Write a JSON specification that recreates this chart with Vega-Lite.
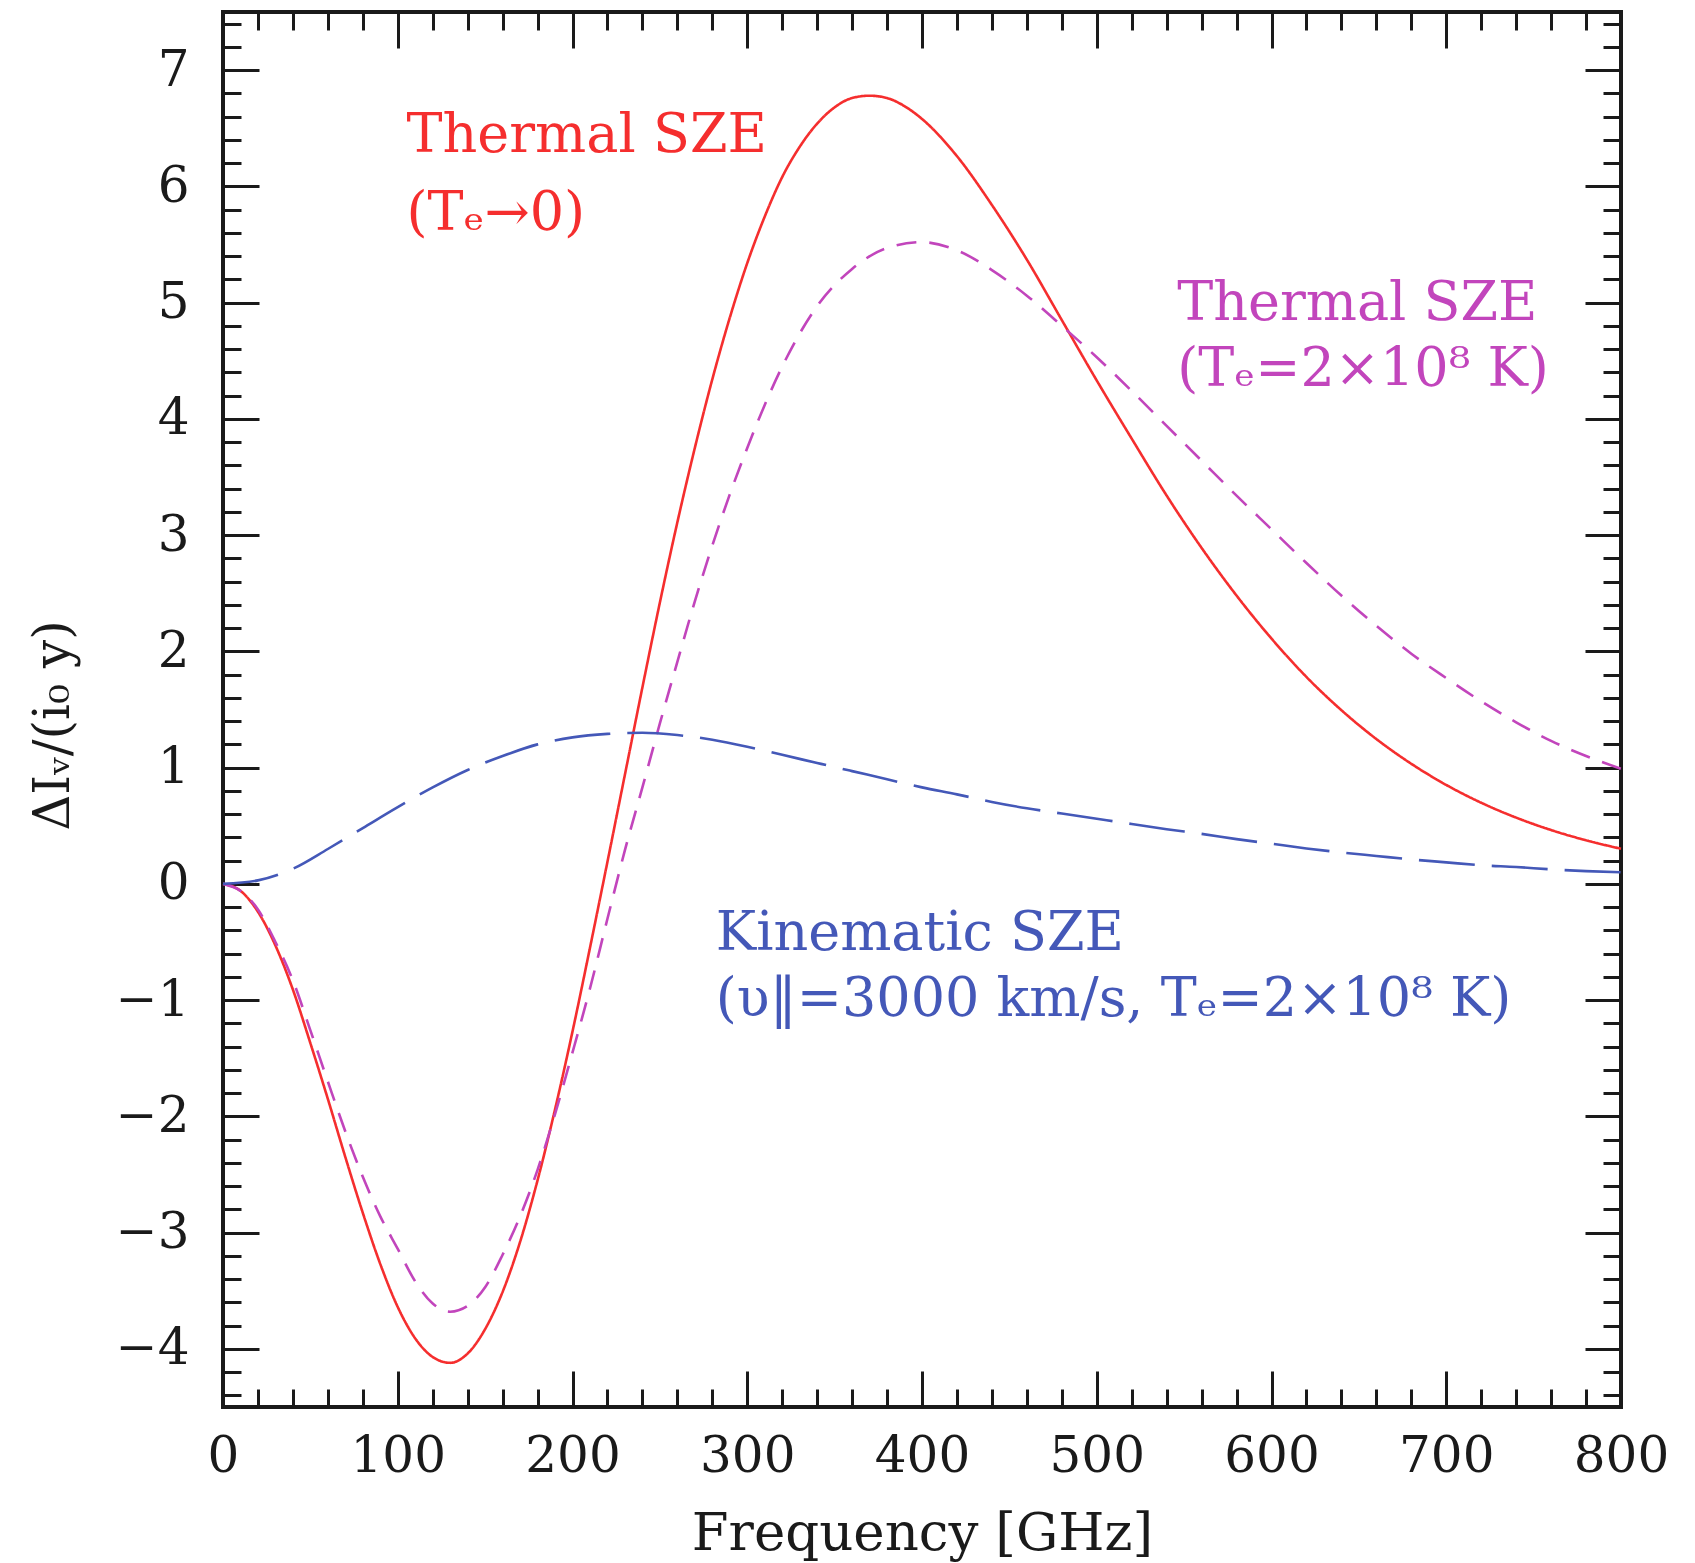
{
  "$schema": "https://vega.github.io/schema/vega-lite/v6.json",
  "width": 1398,
  "height": 1395,
  "autosize": {"type": "none"},
  "padding": {"left": 223, "top": 12, "right": 74, "bottom": 156},
  "background": "white",
  "config": {
    "view": {"stroke": "#1a1a1a", "strokeWidth": 4},
    "axis": {"domain": false, "grid": false, "tickColor": "#1a1a1a", "tickWidth": 3, "labelColor": "#1a1a1a", "titleColor": "#1a1a1a"}
  },
  "datasets": {
    "curves": [
      {"nu": 0, "v": 0, "s": "r"}, {"nu": 10, "v": -0.06, "s": "r"}, {"nu": 20, "v": -0.24, "s": "r"}, {"nu": 30, "v": -0.53, "s": "r"}, {"nu": 40, "v": -0.91, "s": "r"}, {"nu": 50, "v": -1.37, "s": "r"}, {"nu": 60, "v": -1.85, "s": "r"}, {"nu": 70, "v": -2.35, "s": "r"}, {"nu": 80, "v": -2.83, "s": "r"}, {"nu": 90, "v": -3.27, "s": "r"}, {"nu": 100, "v": -3.64, "s": "r"}, {"nu": 110, "v": -3.91, "s": "r"}, {"nu": 120, "v": -4.07, "s": "r"}, {"nu": 130, "v": -4.12, "s": "r"}, {"nu": 140, "v": -4.04, "s": "r"}, {"nu": 150, "v": -3.83, "s": "r"}, {"nu": 160, "v": -3.51, "s": "r"}, {"nu": 170, "v": -3.08, "s": "r"}, {"nu": 180, "v": -2.55, "s": "r"}, {"nu": 190, "v": -1.94, "s": "r"}, {"nu": 200, "v": -1.27, "s": "r"}, {"nu": 210, "v": -0.55, "s": "r"}, {"nu": 220, "v": 0.19, "s": "r"}, {"nu": 230, "v": 0.94, "s": "r"}, {"nu": 240, "v": 1.69, "s": "r"}, {"nu": 250, "v": 2.42, "s": "r"}, {"nu": 260, "v": 3.11, "s": "r"}, {"nu": 270, "v": 3.75, "s": "r"}, {"nu": 280, "v": 4.34, "s": "r"}, {"nu": 290, "v": 4.87, "s": "r"}, {"nu": 300, "v": 5.34, "s": "r"}, {"nu": 310, "v": 5.74, "s": "r"}, {"nu": 320, "v": 6.08, "s": "r"}, {"nu": 330, "v": 6.34, "s": "r"}, {"nu": 340, "v": 6.54, "s": "r"}, {"nu": 350, "v": 6.68, "s": "r"}, {"nu": 360, "v": 6.76, "s": "r"}, {"nu": 370, "v": 6.78, "s": "r"}, {"nu": 380, "v": 6.76, "s": "r"}, {"nu": 390, "v": 6.69, "s": "r"}, {"nu": 400, "v": 6.58, "s": "r"}, {"nu": 420, "v": 6.26, "s": "r"}, {"nu": 440, "v": 5.84, "s": "r"}, {"nu": 460, "v": 5.37, "s": "r"}, {"nu": 480, "v": 4.85, "s": "r"}, {"nu": 500, "v": 4.33, "s": "r"}, {"nu": 520, "v": 3.83, "s": "r"}, {"nu": 540, "v": 3.34, "s": "r"}, {"nu": 560, "v": 2.89, "s": "r"}, {"nu": 580, "v": 2.48, "s": "r"}, {"nu": 600, "v": 2.11, "s": "r"}, {"nu": 620, "v": 1.78, "s": "r"}, {"nu": 640, "v": 1.494, "s": "r"}, {"nu": 660, "v": 1.246, "s": "r"}, {"nu": 680, "v": 1.033, "s": "r"}, {"nu": 700, "v": 0.851, "s": "r"}, {"nu": 720, "v": 0.698, "s": "r"}, {"nu": 740, "v": 0.570, "s": "r"}, {"nu": 760, "v": 0.463, "s": "r"}, {"nu": 780, "v": 0.375, "s": "r"}, {"nu": 800, "v": 0.302, "s": "r"},
      {"nu": 0, "v": 0, "s": "m"}, {"nu": 10, "v": -0.06, "s": "m"}, {"nu": 20, "v": -0.22, "s": "m"}, {"nu": 30, "v": -0.50, "s": "m"}, {"nu": 40, "v": -0.83, "s": "m"}, {"nu": 50, "v": -1.26, "s": "m"}, {"nu": 60, "v": -1.70, "s": "m"}, {"nu": 70, "v": -2.13, "s": "m"}, {"nu": 80, "v": -2.52, "s": "m"}, {"nu": 90, "v": -2.86, "s": "m"}, {"nu": 100, "v": -3.14, "s": "m"}, {"nu": 110, "v": -3.42, "s": "m"}, {"nu": 120, "v": -3.61, "s": "m"}, {"nu": 130, "v": -3.68, "s": "m"}, {"nu": 140, "v": -3.63, "s": "m"}, {"nu": 150, "v": -3.47, "s": "m"}, {"nu": 160, "v": -3.19, "s": "m"}, {"nu": 170, "v": -2.86, "s": "m"}, {"nu": 180, "v": -2.46, "s": "m"}, {"nu": 190, "v": -1.98, "s": "m"}, {"nu": 200, "v": -1.45, "s": "m"}, {"nu": 210, "v": -0.90, "s": "m"}, {"nu": 220, "v": -0.30, "s": "m"}, {"nu": 230, "v": 0.29, "s": "m"}, {"nu": 240, "v": 0.83, "s": "m"}, {"nu": 250, "v": 1.38, "s": "m"}, {"nu": 260, "v": 1.91, "s": "m"}, {"nu": 270, "v": 2.43, "s": "m"}, {"nu": 280, "v": 2.91, "s": "m"}, {"nu": 290, "v": 3.35, "s": "m"}, {"nu": 300, "v": 3.75, "s": "m"}, {"nu": 310, "v": 4.12, "s": "m"}, {"nu": 320, "v": 4.45, "s": "m"}, {"nu": 340, "v": 4.97, "s": "m"}, {"nu": 360, "v": 5.29, "s": "m"}, {"nu": 380, "v": 5.47, "s": "m"}, {"nu": 400, "v": 5.52, "s": "m"}, {"nu": 420, "v": 5.45, "s": "m"}, {"nu": 440, "v": 5.28, "s": "m"}, {"nu": 460, "v": 5.06, "s": "m"}, {"nu": 480, "v": 4.80, "s": "m"}, {"nu": 500, "v": 4.53, "s": "m"}, {"nu": 520, "v": 4.24, "s": "m"}, {"nu": 540, "v": 3.94, "s": "m"}, {"nu": 560, "v": 3.64, "s": "m"}, {"nu": 580, "v": 3.34, "s": "m"}, {"nu": 600, "v": 3.05, "s": "m"}, {"nu": 620, "v": 2.76, "s": "m"}, {"nu": 640, "v": 2.48, "s": "m"}, {"nu": 660, "v": 2.22, "s": "m"}, {"nu": 680, "v": 1.98, "s": "m"}, {"nu": 700, "v": 1.77, "s": "m"}, {"nu": 720, "v": 1.57, "s": "m"}, {"nu": 740, "v": 1.39, "s": "m"}, {"nu": 760, "v": 1.23, "s": "m"}, {"nu": 780, "v": 1.10, "s": "m"}, {"nu": 800, "v": 0.99, "s": "m"},
      {"nu": 0, "v": 0, "s": "k"}, {"nu": 20, "v": 0.03, "s": "k"}, {"nu": 40, "v": 0.13, "s": "k"}, {"nu": 60, "v": 0.30, "s": "k"}, {"nu": 80, "v": 0.48, "s": "k"}, {"nu": 100, "v": 0.66, "s": "k"}, {"nu": 120, "v": 0.83, "s": "k"}, {"nu": 140, "v": 0.98, "s": "k"}, {"nu": 160, "v": 1.10, "s": "k"}, {"nu": 180, "v": 1.20, "s": "k"}, {"nu": 200, "v": 1.26, "s": "k"}, {"nu": 220, "v": 1.29, "s": "k"}, {"nu": 240, "v": 1.30, "s": "k"}, {"nu": 260, "v": 1.28, "s": "k"}, {"nu": 280, "v": 1.24, "s": "k"}, {"nu": 300, "v": 1.18, "s": "k"}, {"nu": 320, "v": 1.11, "s": "k"}, {"nu": 340, "v": 1.04, "s": "k"}, {"nu": 360, "v": 0.97, "s": "k"}, {"nu": 380, "v": 0.90, "s": "k"}, {"nu": 400, "v": 0.83, "s": "k"}, {"nu": 420, "v": 0.77, "s": "k"}, {"nu": 440, "v": 0.705, "s": "k"}, {"nu": 460, "v": 0.65, "s": "k"}, {"nu": 480, "v": 0.605, "s": "k"}, {"nu": 500, "v": 0.56, "s": "k"}, {"nu": 520, "v": 0.515, "s": "k"}, {"nu": 540, "v": 0.47, "s": "k"}, {"nu": 560, "v": 0.43, "s": "k"}, {"nu": 580, "v": 0.385, "s": "k"}, {"nu": 600, "v": 0.345, "s": "k"}, {"nu": 620, "v": 0.305, "s": "k"}, {"nu": 640, "v": 0.27, "s": "k"}, {"nu": 660, "v": 0.24, "s": "k"}, {"nu": 680, "v": 0.21, "s": "k"}, {"nu": 700, "v": 0.185, "s": "k"}, {"nu": 720, "v": 0.16, "s": "k"}, {"nu": 740, "v": 0.145, "s": "k"}, {"nu": 760, "v": 0.125, "s": "k"}, {"nu": 780, "v": 0.11, "s": "k"}, {"nu": 800, "v": 0.10, "s": "k"}
    ],
    "labels": [
      {"nu": 105, "v": 6.30, "label": "Thermal SZE", "s": "r"},
      {"nu": 105, "v": 5.625, "label": "(Tₑ→0)", "s": "r"},
      {"nu": 546, "v": 4.85, "label": "Thermal SZE", "s": "m"},
      {"nu": 546, "v": 4.28, "label": "(Tₑ=2×10⁸ K)", "s": "m"},
      {"nu": 282, "v": -0.57, "label": "Kinematic SZE", "s": "k"},
      {"nu": 282, "v": -1.14, "label": "(υ‖=3000 km/s, Tₑ=2×10⁸ K)", "s": "k"}
    ]
  },
  "resolve": {"axis": {"x": "independent", "y": "independent"}},
  "layer": [
    {
      "data": {"name": "curves"},
      "mark": {"type": "line", "strokeWidth": 2.6, "interpolate": "monotone"},
      "encoding": {
        "x": {"field": "nu", "type": "quantitative",
          "scale": {"domain": [0, 800], "nice": false, "zero": false},
          "axis": {"orient": "bottom", "values": [0, 100, 200, 300, 400, 500, 600, 700, 800], "tickSize": -36, "labelPadding": 60, "labelFont": "DejaVu Serif", "labelFontSize": 50, "labelFlush": false, "labelOverlap": false,
            "title": "Frequency [GHz]", "titleFont": "DejaVu Serif", "titleFontSize": 53, "titleFontWeight": "normal", "titleX": 699, "titleY": 126, "titleAlign": "center", "titleBaseline": "middle"}},
        "y": {"field": "v", "type": "quantitative",
          "scale": {"domain": [-4.5, 7.5], "nice": false, "zero": false},
          "axis": {"orient": "left", "values": [-4, -3, -2, -1, 0, 1, 2, 3, 4, 5, 6, 7], "tickSize": -36, "labelPadding": 70, "labelFont": "DejaVu Serif", "labelFontSize": 50, "labelFlush": false, "labelOverlap": false,
            "title": "ΔIᵥ/(i₀ y)", "titleFont": "DejaVu Serif", "titleFontSize": 50, "titleFontWeight": "normal", "titleAngle": -90, "titleX": -170, "titleY": 713, "titleAlign": "center", "titleBaseline": "middle"}},
        "color": {"field": "s", "type": "nominal", "scale": {"domain": ["r", "m", "k"], "range": ["#f52e2e", "#c245bc", "#4458b8"]}, "legend": null},
        "strokeDash": {"field": "s", "type": "nominal", "scale": {"domain": ["r", "m", "k"], "range": [[1, 0], [20, 13], [56, 17]]}, "legend": null}
      }
    },
    {
      "data": {"name": "curves"},
      "mark": {"type": "point", "opacity": 0},
      "encoding": {
        "x": {"field": "nu", "type": "quantitative", "axis": {"orient": "bottom", "values": [20, 40, 60, 80, 120, 140, 160, 180, 220, 240, 260, 280, 320, 340, 360, 380, 420, 440, 460, 480, 520, 540, 560, 580, 620, 640, 660, 680, 720, 740, 760, 780], "tickSize": -18, "labels": false, "title": null}},
        "y": {"field": "v", "type": "quantitative", "axis": {"orient": "left", "values": [-4.4, -4.2, -3.8, -3.6, -3.4, -3.2, -2.8, -2.6, -2.4, -2.2, -1.8, -1.6, -1.4, -1.2, -0.8, -0.6, -0.4, -0.2, 0.2, 0.4, 0.6, 0.8, 1.2, 1.4, 1.6, 1.8, 2.2, 2.4, 2.6, 2.8, 3.2, 3.4, 3.6, 3.8, 4.2, 4.4, 4.6, 4.8, 5.2, 5.4, 5.6, 5.8, 6.2, 6.4, 6.6, 6.8, 7.2, 7.4], "tickSize": -18, "labels": false, "title": null}}
      }
    },
    {
      "data": {"name": "curves"},
      "mark": {"type": "point", "opacity": 0},
      "encoding": {
        "x": {"field": "nu", "type": "quantitative", "axis": {"orient": "top", "values": [0, 100, 200, 300, 400, 500, 600, 700, 800], "tickSize": -36, "labels": false, "title": null}},
        "y": {"field": "v", "type": "quantitative", "axis": {"orient": "right", "values": [-4, -3, -2, -1, 0, 1, 2, 3, 4, 5, 6, 7], "tickSize": -36, "labels": false, "title": null}}
      }
    },
    {
      "data": {"name": "curves"},
      "mark": {"type": "point", "opacity": 0},
      "encoding": {
        "x": {"field": "nu", "type": "quantitative", "axis": {"orient": "top", "values": [20, 40, 60, 80, 120, 140, 160, 180, 220, 240, 260, 280, 320, 340, 360, 380, 420, 440, 460, 480, 520, 540, 560, 580, 620, 640, 660, 680, 720, 740, 760, 780], "tickSize": -18, "labels": false, "title": null}},
        "y": {"field": "v", "type": "quantitative", "axis": {"orient": "right", "values": [-4.4, -4.2, -3.8, -3.6, -3.4, -3.2, -2.8, -2.6, -2.4, -2.2, -1.8, -1.6, -1.4, -1.2, -0.8, -0.6, -0.4, -0.2, 0.2, 0.4, 0.6, 0.8, 1.2, 1.4, 1.6, 1.8, 2.2, 2.4, 2.6, 2.8, 3.2, 3.4, 3.6, 3.8, 4.2, 4.4, 4.6, 4.8, 5.2, 5.4, 5.6, 5.8, 6.2, 6.4, 6.6, 6.8, 7.2, 7.4], "tickSize": -18, "labels": false, "title": null}}
      }
    },
    {
      "data": {"name": "labels"},
      "mark": {"type": "text", "align": "left", "baseline": "alphabetic", "font": "DejaVu Serif", "fontSize": 54},
      "encoding": {
        "x": {"field": "nu", "type": "quantitative", "axis": null},
        "y": {"field": "v", "type": "quantitative", "axis": null},
        "text": {"field": "label", "type": "nominal"},
        "color": {"field": "s", "type": "nominal", "legend": null}
      }
    }
  ]
}
